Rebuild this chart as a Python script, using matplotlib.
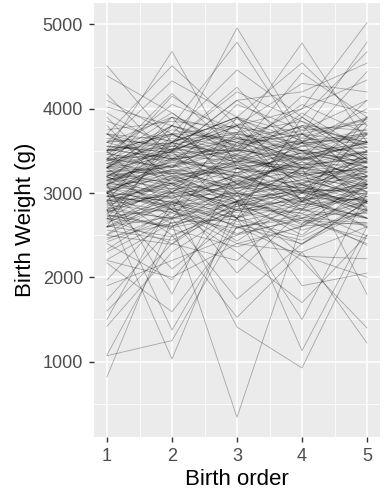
import matplotlib
matplotlib.use("Agg")
import matplotlib.pyplot as plt
from matplotlib.ticker import MultipleLocator

plt.rcParams['font.family'] = ['Liberation Sans', 'DejaVu Sans']

birth_order = [1, 2, 3, 4, 5]

# weights (g) per mother, one list per birth order
order1 = [
    4510, 4390, 4170, 4020, 3500, 3700, 3600, 3400, 3100, 3300,
    3500, 3200, 3400, 3000, 3600, 3300, 3000, 3500, 3300, 3700,
    3400, 3200, 820, 1080, 1070, 2800, 3000, 3000, 2600, 2700,
    3000, 2900, 1420, 1600, 1730, 1970, 2170, 2400, 2600, 2800,
    3000, 2300, 2500, 2700, 1900, 2200, 3200, 2900, 1500, 3300, 3100,
    2420, 2610, 2330, 2740, 2500, 2680, 2210, 2560, 2790, 2450,
    2660, 2830, 2510, 2920, 2740, 2590, 2870, 2470, 2720, 2960,
    2810, 2970, 2690, 3020, 2860, 2640, 3070, 2910, 2760, 2600,
    2910, 3060, 2840, 3120, 2960, 2790, 3010, 2760, 3160, 2890,
    3080, 2920, 3240, 2870, 3150, 3010, 2780, 3190, 3060, 2950,
    3030, 3260, 2960, 3180, 3350, 3090, 2990, 3220, 3140, 3300,
    3180, 3320, 3090, 3400, 3260, 3150, 3020, 3350, 3230, 3110,
    3290, 3410, 3200, 3480, 3330, 3150, 3380, 3260, 3520, 3100,
    3380, 3520, 3300, 3460, 3250, 3600, 3410, 3350, 3200, 3550,
    3500, 3650, 3420, 3700, 3560, 3380, 3620, 3480, 3750, 3550,
    3600, 3950, 3450, 4100, 3700, 3300, 3850, 3500,
    3800, 2700, 3500, 2900, 3900, 2800, 3300, 3700, 2600, 3100,
]
order2 = [
    3600, 3950, 3400, 3800, 4680, 4510, 4330, 4180, 3500, 3800,
    3700, 3600, 3300, 3600, 3400, 3700, 3400, 3600, 3800, 3500,
    3900, 3500, 2700, 2500, 1250, 1030, 1375, 2640, 2900, 2600,
    2800, 3100, 2300, 2400, 2600, 2800, 1590, 1970, 3000, 2700,
    2500, 2700, 2900, 2400, 2200, 2000, 2800, 2100, 2900, 3500, 1800,
    2710, 2480, 2830, 2590, 2390, 2920, 2650, 2440, 2570, 2760,
    2880, 2690, 3010, 2770, 2610, 2860, 2940, 2640, 2810, 3060,
    3010, 2840, 3120, 2890, 2770, 3040, 2810, 2960, 3160, 2720,
    3120, 2940, 3210, 3000, 2860, 3170, 2890, 3050, 3260, 2970,
    2990, 3270, 3110, 3180, 2860, 3340, 3020, 2940, 3230, 3120,
    3280, 3110, 3390, 3050, 3240, 3170, 3420, 3010, 3330, 3190,
    3360, 3230, 3470, 3140, 3300, 3410, 3200, 3520, 3080, 3280,
    3440, 3310, 3560, 3250, 3490, 3370, 3600, 3230, 3400, 3530,
    3560, 3410, 3650, 3380, 3520, 3700, 3450, 3600, 3320, 3480,
    3700, 3550, 3800, 3620, 3480, 3750, 3580, 3680, 3850, 3520,
    3900, 3500, 4050, 3700, 3300, 4150, 3600, 3950,
    3000, 3600, 2800, 3800, 3100, 3500, 2700, 3200, 3700, 3900,
]
order3 = [
    3900, 3400, 3800, 3600, 3300, 3800, 3900, 3500, 4960, 4790,
    4460, 4255, 3700, 3900, 3500, 3800, 3600, 3900, 3500, 4100,
    3700, 3800, 3000, 2800, 2600, 2900, 2700, 340, 1410, 2900,
    2400, 2700, 2800, 2200, 3100, 2500, 2600, 2900, 2050, 1740,
    1525, 2900, 2600, 3000, 2500, 2400, 2300, 2700, 3200, 2700, 3300,
    2580, 2870, 2520, 2740, 2910, 2430, 2690, 2820, 2360, 2630,
    2770, 2960, 2660, 3030, 2840, 2710, 2590, 2900, 3010, 2790,
    2880, 3110, 2790, 2970, 3160, 2860, 2710, 3000, 2920, 3060,
    2990, 3220, 2910, 3060, 3240, 2960, 2840, 3110, 3020, 3140,
    3210, 3060, 2890, 3380, 3140, 2970, 3290, 3100, 2880, 3330,
    3150, 3360, 3240, 3430, 3080, 3290, 3120, 3380, 3200, 3050,
    3290, 3450, 3170, 3380, 3520, 3240, 3330, 3110, 3460, 3210,
    3380, 3560, 3290, 3470, 3620, 3340, 3430, 3240, 3510, 3400,
    3490, 3670, 3400, 3580, 3720, 3440, 3530, 3360, 3650, 3510,
    3650, 3820, 3560, 3720, 3880, 3600, 3700, 3530, 3780, 3640,
    3550, 4100, 3750, 3350, 4050, 3650, 4200, 3450,
    3700, 2900, 3900, 3100, 2800, 3800, 3600, 2700, 3300, 3000,
]
order4 = [
    3300, 3700, 3500, 3400, 3600, 3200, 3500, 3800, 3700, 3600,
    3900, 3400, 4780, 4545, 4425, 4300, 4000, 3700, 3900, 4200,
    3600, 4000, 2900, 3100, 2400, 3300, 3000, 2640, 925, 1130,
    2300, 2200, 2600, 2900, 2800, 3000, 2700, 2500, 2800, 2400,
    2300, 2260, 2250, 1900, 2700, 2600, 1700, 3300, 3000, 1500, 3100,
    2820, 2560, 2680, 2390, 2670, 2930, 2480, 2760, 2610, 2440,
    2890, 2640, 2820, 2710, 3020, 2860, 2740, 3040, 2620, 2950,
    2760, 3010, 2940, 3120, 2840, 2900, 3070, 2790, 2700, 3030,
    3160, 2890, 3040, 3210, 2930, 3010, 3120, 2860, 3240, 3060,
    2940, 3150, 3300, 3020, 3260, 3090, 3180, 3370, 3000, 2910,
    3370, 3020, 3290, 3160, 3410, 3230, 3060, 3310, 3100, 3440,
    3420, 3190, 3340, 3260, 3120, 3480, 3300, 3400, 3230, 3510,
    3510, 3280, 3440, 3600, 3330, 3470, 3210, 3560, 3390, 3300,
    3620, 3380, 3550, 3700, 3460, 3590, 3330, 3650, 3500, 3420,
    3780, 3560, 3700, 3850, 3620, 3740, 3500, 3800, 3660, 3590,
    4050, 3600, 3300, 3950, 3750, 3400, 3850, 4150,
    2900, 3800, 3000, 3600, 3700, 2900, 3100, 3900, 2800, 3500,
]
order5 = [
    3500, 3600, 3300, 3700, 3400, 3900, 3100, 3600, 3200, 3900,
    3400, 4100, 3600, 3800, 3900, 4200, 5020, 4790, 4675, 4540,
    4440, 4340, 3200, 2900, 2800, 3100, 2900, 3100, 2500, 2600,
    1220, 1400, 3000, 2700, 3300, 2600, 2900, 3100, 2700, 2900,
    2600, 2000, 2220, 2050, 2400, 3200, 2500, 1800, 3100, 3000, 2800,
    2490, 2780, 2620, 2910, 2460, 2700, 2880, 2380, 2650, 2820,
    2710, 2920, 2960, 2640, 2790, 3060, 2760, 2830, 2890, 2590,
    3060, 2790, 2920, 2760, 3010, 3140, 2840, 2960, 3110, 2880,
    2960, 3110, 3020, 2880, 3210, 3060, 3240, 2940, 3090, 2990,
    3320, 2980, 3160, 3250, 2900, 3200, 3070, 3010, 3390, 3130,
    3210, 3440, 3070, 3310, 3180, 3020, 3370, 3250, 3460, 3140,
    3250, 3380, 3500, 3150, 3420, 3310, 3190, 3460, 3280, 3360,
    3350, 3490, 3620, 3260, 3410, 3550, 3300, 3480, 3610, 3370,
    3450, 3600, 3720, 3370, 3540, 3680, 3420, 3580, 3710, 3480,
    3600, 3760, 3880, 3540, 3700, 3820, 3580, 3740, 3870, 3650,
    3700, 4000, 3850, 3500, 4100, 3600, 3350, 3950,
    3500, 3100, 3700, 2800, 3300, 3900, 2700, 3400, 3800, 2900,
]

fig = plt.figure(figsize=(3.84, 4.94), dpi=100)
ax = fig.add_axes([94 / 384, 1 - 437 / 494, 286 / 384, 434 / 494])
ax.set_facecolor('#EBEBEB')

for w in zip(order1, order2, order3, order4, order5):
    ax.plot(birth_order, w, color='black', alpha=0.3, lw=0.6, zorder=3)

lo = min(min(order1), min(order2), min(order3), min(order4), min(order5))
hi = max(max(order1), max(order2), max(order3), max(order4), max(order5))
pad = 0.05 * (hi - lo)
ax.set_ylim(lo - pad, hi + pad)
ax.set_xlim(0.8, 5.2)

ax.set_xticks(birth_order)
ax.set_yticks([1000, 2000, 3000, 4000, 5000])
ax.xaxis.set_minor_locator(MultipleLocator(0.5))
ax.yaxis.set_minor_locator(MultipleLocator(500))
ax.grid(which='major', color='white', lw=1.1, zorder=1)
ax.grid(which='minor', color='white', lw=0.55, zorder=1)
ax.set_axisbelow(True)
for s in ax.spines.values():
    s.set_visible(False)

ax.tick_params(which='major', length=3.3, width=1.0, color='#333333',
               labelcolor='#4D4D4D', labelsize=13, pad=4.5)
ax.tick_params(which='minor', length=0)

ax.set_xlabel('Birth order', fontsize=16, color='black', labelpad=3)
ax.set_ylabel('Birth Weight (g)', fontsize=16, color='black', labelpad=5)

fig.savefig('out.png', dpi=100)
